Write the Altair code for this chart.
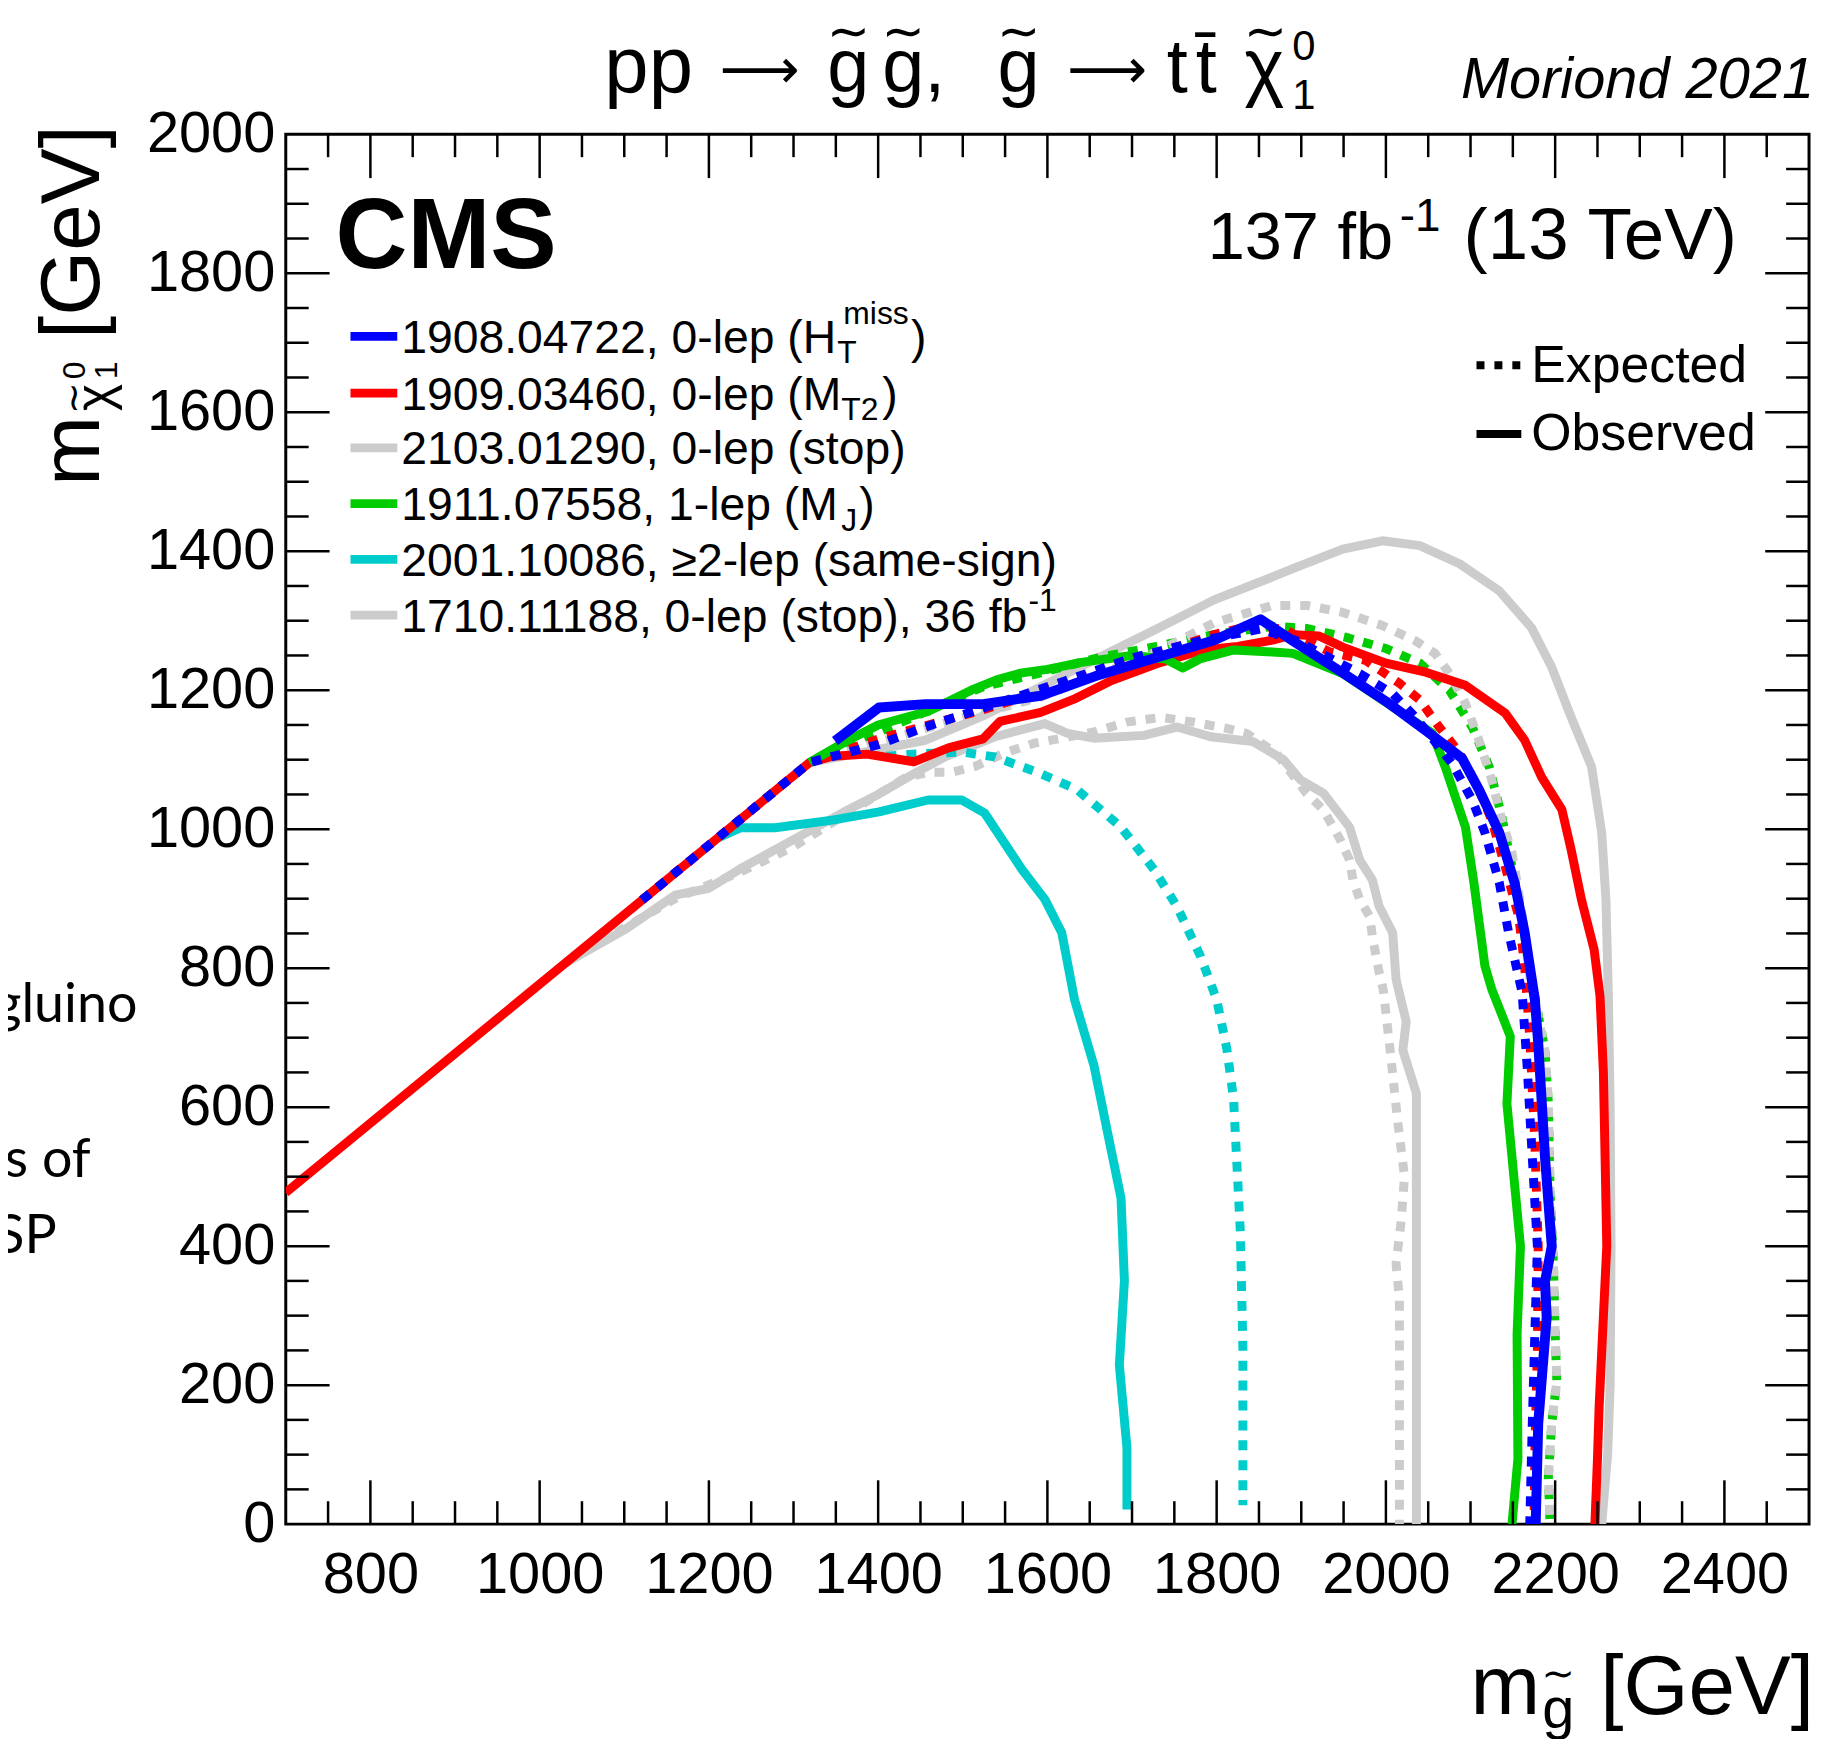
import altair as alt
import pandas as pd

FONT = "Liberation Sans"

# ---------------- data ----------------
# 1908.04722, 0-lep (HT miss)
blue_obs_mg = [1349, 1401, 1456, 1524, 1592, 1661, 1729, 1797, 1852, 1890, 1949, 2000, 2047, 2090, 2110, 2134, 2152, 2164, 2176, 2180, 2188, 2196, 2188, 2190, 2180, 2177]
blue_obs_ml = [1127, 1175, 1180, 1180, 1192, 1222, 1247, 1272, 1302, 1271, 1225, 1184, 1142, 1102, 1057, 995, 923, 851, 755, 692, 528, 400, 349, 298, 145, 0]
blue_exp_mg = [1121, 1319, 1401, 1456, 1538, 1620, 1702, 1784, 1852, 1893, 1969, 2008, 2035, 2078, 2102, 2117, 2134, 2145, 2161, 2167, 2173, 2179, 2176, 2173, 2170]
blue_exp_ml = [898, 1096, 1122, 1147, 1180, 1213, 1247, 1272, 1288, 1272, 1224, 1195, 1161, 1095, 1042, 995, 923, 851, 765, 657, 528, 400, 273, 145, 0]

# 1909.03460, 0-lep (MT2)
red_obs_mg = [700, 1319, 1346, 1387, 1442, 1483, 1524, 1544, 1592, 1633, 1674, 1729, 1784, 1825, 1866, 1890, 1921, 1949, 2000, 2047, 2094, 2141, 2164, 2184, 2208, 2219, 2231, 2246, 2253, 2257, 2259, 2261, 2256, 2252, 2250, 2247]
red_obs_ml = [477, 1096, 1105, 1108, 1097, 1117, 1130, 1155, 1168, 1188, 1213, 1238, 1258, 1263, 1272, 1280, 1278, 1262, 1239, 1226, 1207, 1167, 1128, 1075, 1028, 970, 899, 827, 760, 650, 528, 400, 273, 170, 94, 0]
red_exp_mg = [1121, 1319, 1401, 1524, 1661, 1797, 1838, 1879, 1934, 1976, 2016, 2040, 2063, 2087, 2110, 2125, 2141, 2157, 2164, 2170, 2176, 2180, 2179, 2176, 2175]
red_exp_ml = [898, 1096, 1130, 1172, 1225, 1280, 1292, 1288, 1255, 1243, 1210, 1186, 1147, 1110, 1057, 1013, 946, 874, 803, 700, 550, 400, 250, 100, 0]

# 2103.01290, 0-lep (stop)
gray21_obs_mg = [1319, 1400, 1456, 1524, 1592, 1661, 1729, 1797, 1866, 1890, 1949, 1996, 2040, 2087, 2134, 2172, 2196, 2219, 2243, 2255, 2260, 2263, 2265, 2266, 2265, 2262, 2255]
gray21_obs_ml = [1096, 1115, 1128, 1163, 1205, 1247, 1288, 1330, 1363, 1375, 1403, 1415, 1408, 1382, 1343, 1290, 1233, 1161, 1090, 995, 899, 755, 600, 400, 200, 100, 0]
gray21_exp_mg = [1319, 1400, 1500, 1592, 1729, 1797, 1866, 1906, 1949, 1996, 2035, 2058, 2075, 2094, 2110, 2125, 2137, 2149, 2157, 2164, 2169, 2188, 2192, 2194, 2198, 2200, 2202, 2196, 2192, 2194]
gray21_exp_ml = [1096, 1125, 1160, 1190, 1255, 1297, 1322, 1322, 1312, 1293, 1271, 1253, 1224, 1181, 1128, 1071, 1013, 966, 909, 851, 794, 682, 605, 477, 375, 273, 206, 145, 68, 0]

# 1911.07558, 1-lep (MJ)
green_obs_mg = [1319, 1360, 1400, 1460, 1510, 1540, 1570, 1600, 1640, 1700, 1740, 1760, 1780, 1820, 1866, 1890, 1949, 2008, 2055, 2070, 2094, 2104, 2117, 2125, 2147, 2143, 2159, 2155, 2156, 2149]
green_obs_ml = [1096, 1125, 1150, 1170, 1200, 1215, 1225, 1230, 1240, 1250, 1245, 1232, 1245, 1258, 1255, 1253, 1224, 1176, 1138, 1090, 1003, 923, 803, 770, 702, 605, 400, 273, 94, 0]
green_exp_mg = [1319, 1420, 1524, 1592, 1661, 1729, 1797, 1866, 1906, 1953, 2000, 2040, 2075, 2102, 2122, 2137, 2149, 2161, 2169, 2188, 2192, 2194, 2198, 2200, 2202, 2196, 2192, 2194]
green_exp_ml = [1096, 1150, 1205, 1225, 1247, 1263, 1280, 1292, 1289, 1276, 1260, 1239, 1200, 1147, 1090, 1018, 946, 874, 803, 682, 605, 477, 375, 273, 206, 145, 68, 0]

# 2001.10086, >=2-lep (same-sign)
cyan_obs_mg = [1210, 1237, 1278, 1346, 1401, 1459, 1499, 1526, 1570, 1597, 1617, 1632, 1655, 1671, 1687, 1691, 1685, 1694, 1694]
cyan_obs_ml = [987, 1002, 1002, 1013, 1025, 1042, 1042, 1023, 942, 899, 851, 755, 660, 564, 469, 350, 229, 110, 21]
cyan_exp_mg = [1410, 1440, 1499, 1538, 1588, 1635, 1687, 1726, 1753, 1781, 1800, 1812, 1820, 1823, 1828, 1831, 1831, 1831]
cyan_exp_ml = [1105, 1108, 1111, 1104, 1082, 1057, 1003, 942, 889, 817, 755, 684, 612, 540, 421, 254, 110, 27]

# 1710.11188, 0-lep (stop), 36 fb-1
gray17_obs_mg = [1030, 1100, 1160, 1200, 1240, 1300, 1360, 1400, 1444, 1479, 1538, 1597, 1624, 1655, 1714, 1753, 1793, 1843, 1879, 1899, 1926, 1957, 1969, 1984, 1992, 2008, 2012, 2024, 2020, 2036, 2036]
gray17_obs_ml = [807, 855, 905, 915, 945, 985, 1025, 1050, 1081, 1104, 1133, 1152, 1138, 1131, 1135, 1147, 1133, 1126, 1100, 1071, 1052, 1003, 956, 927, 889, 851, 784, 723, 682, 620, 0]
gray17_exp_mg = [1030, 1100, 1160, 1240, 1300, 1360, 1400, 1432, 1459, 1487, 1514, 1550, 1585, 1617, 1655, 1694, 1734, 1773, 1812, 1835, 1870, 1906, 1926, 1946, 1957, 1961, 1969, 1981, 1984, 1992, 1997, 2005, 2014, 2022, 2018, 2012, 2016, 2016]
gray17_exp_ml = [807, 858, 900, 940, 975, 1020, 1050, 1074, 1082, 1082, 1090, 1110, 1124, 1131, 1140, 1154, 1161, 1154, 1145, 1138, 1110, 1052, 1028, 985, 956, 927, 899, 874, 846, 794, 768, 682, 579, 500, 436, 375, 324, 0]

x_tick_labels = [800, 1000, 1200, 1400, 1600, 1800, 2000, 2200, 2400]
y_tick_labels = [0, 200, 400, 600, 800, 1000, 1200, 1400, 1600, 1800, 2000]

legend_labels = [
    "1908.04722, 0-lep (H",
    "1909.03460, 0-lep (M",
    "2103.01290, 0-lep (stop)",
    "1911.07558, 1-lep (M",
    "2001.10086, \u22652-lep (same-sign)",
    "1710.11188, 0-lep (stop), 36 fb",
]
BLUE, RED, GRAY, GREEN, CYAN = "#0000ff", "#ff0000", "#cccccc", "#00cc00", "#00cccc"
legend_colors = [BLUE, RED, GRAY, GREEN, CYAN, GRAY]

# ---------------- layout ----------------
W, H = 1530, 1396
xscale = alt.Scale(domain=[700, 2500], nice=False, zero=False)
yscale = alt.Scale(domain=[0, 2000], nice=False, zero=False)
xax = alt.Axis(values=x_tick_labels, format="d", title=None, ticks=False, domain=False,
               grid=False, labelFont=FONT, labelFontSize=58, labelColor="black",
               labelPadding=23, labelOverlap=False, labelFlush=False)
yax = alt.Axis(values=y_tick_labels, format="d", title=None, ticks=False, domain=False,
               grid=False, labelFont=FONT, labelFontSize=58, labelColor="black",
               labelPadding=11, labelOverlap=False, labelFlush=False)

curves = [
    (gray17_exp_mg, gray17_exp_ml, GRAY, True),
    (gray17_obs_mg, gray17_obs_ml, GRAY, False),
    (gray21_obs_mg, gray21_obs_ml, GRAY, False),
    (green_exp_mg, green_exp_ml, GREEN, True),
    (gray21_exp_mg, gray21_exp_ml, GRAY, True),
    (cyan_exp_mg, cyan_exp_ml, CYAN, True),
    (cyan_obs_mg, cyan_obs_ml, CYAN, False),
    (red_obs_mg, red_obs_ml, RED, False),
    (red_exp_mg, red_exp_ml, RED, True),
    (green_obs_mg, green_obs_ml, GREEN, False),
    (blue_exp_mg, blue_exp_ml, BLUE, True),
    (blue_obs_mg, blue_obs_ml, BLUE, False),
]

layers = []
for mg, ml, col, dotted in curves:
    df = pd.DataFrame({"mg": mg, "mlsp": ml, "i": list(range(len(mg)))})
    kw = dict(color=col, strokeWidth=9, clip=True, strokeCap="butt", strokeJoin="round")
    if dotted:
        kw["strokeDash"] = [10, 10]
    if col == BLUE and not dotted:
        kw["strokeWidth"] = 10
    layers.append(
        alt.Chart(df).mark_line(**kw).encode(
            x=alt.X("mg:Q", scale=xscale, axis=xax),
            y=alt.Y("mlsp:Q", scale=yscale, axis=yax),
            order=alt.Order("i:Q"),
        )
    )

# ---------------- ticks inside the frame (ROOT style) ----------------
x_major = x_tick_labels
x_minor = [v for v in range(750, 2500, 50) if v % 200 != 0]
y_major = y_tick_labels[1:-1]
y_minor = [v for v in range(50, 2000, 50) if v % 200 != 0]

def xticks(vals, length):
    d = pd.DataFrame({"mg": vals})
    base = alt.Chart(d).mark_rule(color="black", strokeWidth=2.5)
    return [
        base.encode(x=alt.X("mg:Q", scale=xscale, axis=xax), y=alt.value(H), y2=alt.value(H - length)),
        base.encode(x=alt.X("mg:Q", scale=xscale, axis=xax), y=alt.value(0), y2=alt.value(length)),
    ]

def yticks(vals, length):
    d = pd.DataFrame({"mlsp": vals})
    base = alt.Chart(d).mark_rule(color="black", strokeWidth=2.5)
    return [
        base.encode(y=alt.Y("mlsp:Q", scale=yscale, axis=yax), x=alt.value(0), x2=alt.value(length)),
        base.encode(y=alt.Y("mlsp:Q", scale=yscale, axis=yax), x=alt.value(W), x2=alt.value(W - length)),
    ]

layers += xticks(x_major, 44) + xticks(x_minor, 23) + yticks(y_major, 44) + yticks(y_minor, 23)

# ---------------- texts ----------------
dummy = pd.DataFrame({"a": [0]})

def txt(s, x, y, size, font=FONT, align="left", angle=0, baseline="alphabetic", **kw):
    props = dict(text=s, fontSize=size, font=font, align=align, baseline=baseline, color="black")
    if angle:
        props["angle"] = angle
    props.update(kw)
    return alt.Chart(dummy).mark_text(**props).encode(x=alt.value(x), y=alt.value(y))

WAVE = "\u223c"  # tilde drawn as a wide wave above the letter
TS = 76          # title size
TB = -42         # title baseline
gw = 0.556 * TS

def tilde(xc, yc, size):
    return txt(WAVE, xc, yc, size, font="DejaVu Sans", align="center", baseline="middle")

def g_tilde(x, extra=""):
    return [txt("g" + extra, x, TB, TS), tilde(x + gw / 2, -102, 52)]

layers += [txt("pp", 320, TB, TS + 4)]
layers += [txt("\u27f6", 436, TB - 4, 56, font="DejaVu Sans")]
layers += g_tilde(544) + g_tilde(599, ",") + g_tilde(715)
layers += [txt("\u27f6", 785, TB - 4, 56, font="DejaVu Sans")]
layers += [
    txt("t", 885, TB, TS),
    txt("t\u0304", 914, TB, TS),
    txt("\u03c7", 963, TB, TS),
    tilde(984, -102, 52),
    txt("0", 1011, -75, 42),
    txt("1", 1011, -25, 42),
    txt("Moriond 2021", 1535, -36, 58, align="right", fontStyle="italic"),
]
# CMS and lumi
layers += [
    txt("CMS", 50, 134, 100, fontWeight="bold"),
    txt("137 fb", 926, 125, 67),
    txt("-1", 1119, 97, 46),
    txt("(13 TeV)", 1183, 125, 73),
]

# legend of analyses
LS = 46.5
row_c = [203, 260, 315, 371, 427, 483]
for lab, col, c in zip(legend_labels, legend_colors, row_c):
    layers.append(
        alt.Chart(dummy).mark_rule(color=col, strokeWidth=9).encode(
            x=alt.value(65), x2=alt.value(112), y=alt.value(c))
    )
    layers.append(txt(lab, 116, c + 16.5, LS))
layers += [
    txt("T", 554, row_c[0] + 27, 32),
    txt("miss", 560, row_c[0] - 12, 32),
    txt(")", 628, row_c[0] + 16.5, LS),
    txt("T2", 558, row_c[1] + 27, 32),
    txt(")", 599, row_c[1] + 16.5, LS),
    txt("J", 558, row_c[3] + 27, 32),
    txt(")", 576, row_c[3] + 16.5, LS),
    txt("-1", 746, row_c[5] - 4, 32),
]

# expected / observed legend
layers += [
    alt.Chart(dummy).mark_rule(color="black", strokeWidth=8, strokeDash=[8, 10], strokeCap="butt").encode(
        x=alt.value(1196), x2=alt.value(1242), y=alt.value(232)),
    alt.Chart(dummy).mark_rule(color="black", strokeWidth=8).encode(
        x=alt.value(1196), x2=alt.value(1241), y=alt.value(301)),
    txt("Expected", 1251, 249, 52),
    txt("Observed", 1251, 317, 52),
]

# axis titles
AS = 84
layers += [
    txt("m", 1190, 1587, AS),
    txt("g", 1262, 1601, 58),
    tilde(1262 + 0.278 * 58, 1548, 40),
    txt("[GeV]", 1535, 1587, AS, align="right"),
    txt("m", -188, 353, AS, angle=270),
    txt("\u03c7", -176, 278, 52, angle=270),
    txt(WAVE, -212, 265, 38, font="DejaVu Sans", angle=270, align="center", baseline="middle"),
    txt("0", -202, 246, 32, angle=270),
    txt("1", -170, 246, 32, angle=270),
    txt("[GeV]", -188, -9, AS, angle=270, align="right"),
]

# cropped slide text on the far left
layers += [
    txt("gluino", -149, 892, 54, font="Lato", align="right"),
    txt("s of", -196, 1047, 54, font="Lato", align="right"),
    txt("SP", -230, 1124, 54, font="Lato", align="right"),
]

chart = alt.layer(*layers).properties(
    width=W, height=H,
    padding={"left": 279, "top": 123, "right": 6, "bottom": 212},
    autosize=alt.AutoSizeParams(type="none"),
).configure_view(stroke="black", strokeWidth=3)

chart.save("out.html", embed_options={"renderer": "svg", "actions": False})
